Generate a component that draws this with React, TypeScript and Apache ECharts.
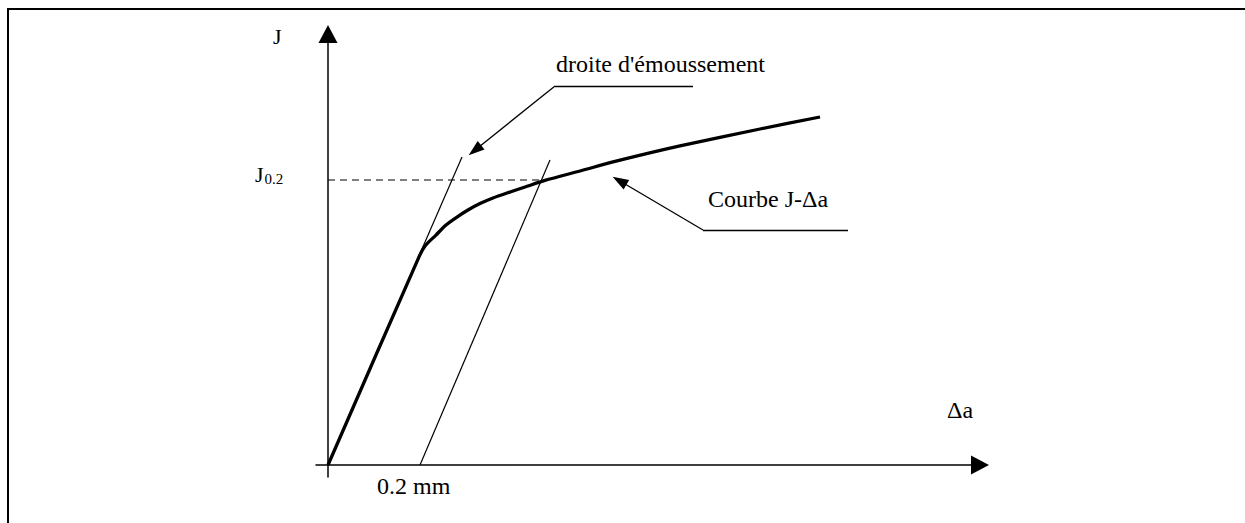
import React, { useEffect, useRef } from "react";
import * as echarts from "echarts";

// J-Δa resistance curve (Δa in mm, J in arbitrary units)
const curveDeltaA = [0, 0.1957, 0.2109, 0.2348, 0.2565, 0.2804, 0.3043, 0.3304, 0.3587, 0.3891, 0.4283, 0.4717, 0.5478, 0.6283, 0.7652, 0.9391, 1.0696];
const curveJ = [0, 137.3, 146.0, 153.3, 160.0, 165.3, 170.0, 174.3, 178.0, 181.3, 185.3, 189.7, 196.0, 202.7, 212.7, 224.0, 232.0];

// blunting line and its 0.2 mm offset
const bluntingDeltaA = [0, 0.2913];
const bluntingJ = [0, 205.3];
const offsetDeltaA = [0.2, 0.4826];
const offsetJ = [0, 203.3];

// J0.2 level
const j02DeltaA = [0, 0.4717];
const j02J = [190, 190];

// leader lines (horizontal end, corner, arrow)
const bluntLeaderDeltaA = [0.7935, 0.4935, 0.3193];
const bluntLeaderJ = [252.7, 252.7, 209.8];
const curveLeaderDeltaA = [1.1304, 0.8152, 0.6337];
const curveLeaderJ = [156.7, 156.7, 189.5];

// axis extents
const xMin = -0.02609;
const xMax = 1.41739;
const yMin = -8;
const yMax = 287.333;

const zip = (a: number[], b: number[]) => a.map((v, i) => [v, b[i]]);

const FONT = "'Liberation Serif', 'Times New Roman', serif";

function leader(xs: number[], ys: number[]) {
  return [
    [
      { coord: [xs[0], ys[0]], symbol: "none" },
      { coord: [xs[1], ys[1]], symbol: "none" },
    ],
    [
      { coord: [xs[1], ys[1]], symbol: "none" },
      { coord: [xs[2], ys[2]], symbol: "triangle", symbolSize: [11, 16] },
    ],
  ];
}

function txt(text: string, x: number, y: number, size: number) {
  return {
    type: "text",
    x,
    y,
    silent: true,
    style: {
      text,
      fill: "#000",
      fontSize: size,
      fontFamily: FONT,
      align: "left",
      verticalAlign: "middle",
      textAlign: "left",
      textVerticalAlign: "middle",
    },
  };
}

export default function App() {
  const ref = useRef<HTMLDivElement>(null);
  useEffect(() => {
    if (!ref.current) return;
    const chart = echarts.init(ref.current, undefined, { renderer: "svg" });
    const axisLine = {
      onZero: true,
      lineStyle: { color: "#000", width: 1.5 },
      symbol: ["none", "triangle"],
      symbolSize: [19, 18],
    };
    const thin = { color: "#000", width: 1.2 };
    chart.setOption({
      animation: false,
      backgroundColor: "#fff",
      grid: { left: 316, right: 265, top: 34, bottom: 46, containLabel: false },
      xAxis: {
        type: "value",
        min: xMin,
        max: xMax,
        axisLine,
        axisTick: { show: false },
        axisLabel: { show: false },
        splitLine: { show: false },
      },
      yAxis: {
        type: "value",
        min: yMin,
        max: yMax,
        axisLine,
        axisTick: { show: false },
        axisLabel: { show: false },
        splitLine: { show: false },
      },
      series: [
        {
          type: "line",
          name: "Courbe J-Δa",
          data: zip(curveDeltaA, curveJ),
          symbol: "none",
          smooth: 0.25,
          silent: true,
          lineStyle: { color: "#000", width: 3.3 },
          z: 5,
          markLine: {
            silent: true,
            symbol: ["none", "none"],
            label: { show: false },
            lineStyle: { color: "#000", width: 1.3, type: "solid" },
            emphasis: { disabled: true },
            data: [...leader(bluntLeaderDeltaA, bluntLeaderJ), ...leader(curveLeaderDeltaA, curveLeaderJ)],
          },
        },
        {
          type: "line",
          name: "droite d'émoussement",
          data: zip(bluntingDeltaA, bluntingJ),
          symbol: "none",
          silent: true,
          lineStyle: thin,
        },
        {
          type: "line",
          name: "offset",
          data: zip(offsetDeltaA, offsetJ),
          symbol: "none",
          silent: true,
          lineStyle: thin,
        },
        {
          type: "line",
          name: "J0.2",
          data: zip(j02DeltaA, j02J),
          symbol: "none",
          silent: true,
          lineStyle: { color: "#000", width: 1.2, type: [7, 5] },
        },
      ],
      graphic: [
        {
          type: "rect",
          silent: true,
          shape: { x: 8, y: 9, width: 1300, height: 600 },
          style: { fill: "none", stroke: "#000", lineWidth: 2 },
        },
        txt("J", 273, 36, 22),
        txt("J", 255, 174, 22),
        txt("0.2", 264.5, 179, 15),
        txt("droite d'émoussement", 556, 64, 24),
        txt("Courbe J-Δa", 708, 199, 24),
        txt("0.2 mm", 377, 486, 24),
        txt("Δa", 947, 410, 24),
      ],
    });
    return () => chart.dispose();
  }, []);
  return (
    <div
      ref={ref}
      style={{ position: "fixed", left: 0, top: 0, width: 1245, height: 523, background: "#fff" }}
    />
  );
}
